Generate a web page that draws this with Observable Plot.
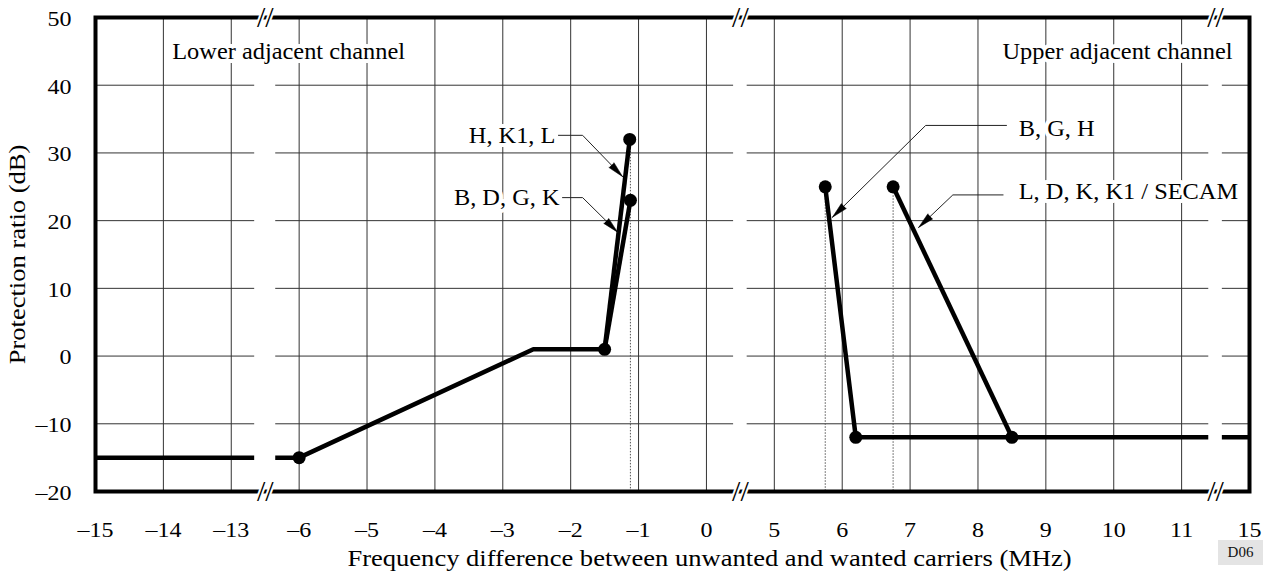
<!DOCTYPE html>
<html><head><meta charset="utf-8">
<script src="https://cdn.jsdelivr.net/npm/d3@7"></script>
<script src="https://cdn.jsdelivr.net/npm/@observablehq/plot@0.6"></script>
<style>
body{margin:0;background:#fff;}
#wrap{position:relative;width:1276px;height:577px;}
#code{position:absolute;left:1218px;top:540px;width:45px;height:25px;background:#e4e4e4;font:15px "Liberation Serif";display:flex;align-items:center;justify-content:center;color:#111;z-index:2;}
</style></head><body><div id="wrap"><div id="code">D06</div></div>
<script>
// ---- axis definition (broken frequency axis) ----
const xTickValues = [-15,-14,-13,-6,-5,-4,-3,-2,-1,0,5,6,7,8,9,10,11,15];
const yTickValues = [-20,-10,0,10,20,30,40,50];
const segDomain = [-15,-13,-6,0,5,11,15];
const segVirtual = [0,2,3,9,10,16,17];
const breakVirtual = [2.5, 9.5, 16.5];

// ---- series ----
const commonF = [-15, -6, -2.55, -1.5];
const commonDB = [-15, -15, 1, 1];
const hk1lF = [-1.5, -1.13];
const hk1lDB = [1, 32];
const bdgkF = [-1.5, -1.12];
const bdgkDB = [1, 23];
const bghF = [5.75, 6.2, 15];
const bghDB = [25, -12, -12];
const ldkF = [6.75, 8.5];
const ldkDB = [25, -12];

const markerF = [-6, -1.5, -1.13, -1.12, 5.75, 6.2, 6.75, 8.5];
const markerDB = [-15, 1, 32, 23, 25, -12, 25, -12];

const dropF = [-1.12, 5.75, 6.75];
const dropTop = [32, 25, 25];

// ---- annotations ----
const channelText = ["Lower adjacent channel", "Upper adjacent channel"];
const channelF = [-13.87, 8.36];
const channelDB = [45, 45];

const annoText = ["H, K1, L", "B, D, G, K", "B, G, H", "L, D, K, K1 / SECAM"];
const annoF = [-2.18, -2.12, 8.6, 8.6];
const annoDB = [32.6, 23.4, 33.6, 24.3];
const leaderF = [[-2.18, -1.824, -1.235], [-2.12, -1.824, -1.309], [8.42, 7.23, 5.856], [8.37, 7.63, 7.126]];
const leaderDB = [[32.6, 32.6, 26.5], [23.4, 23.4, 18.3], [34.06, 34.06, 20.5], [23.8, 23.8, 19.0]];

const yLabel = "Protection ratio (dB)";
const xLabel = "Frequency difference between unwanted and wanted carriers (MHz)";

// ---- build ----
const toV = d3.scaleLinear(segDomain, segVirtual);
const fmt = d => d < 0 ? "\u2013" + Math.abs(d) : String(d);

const W = 1276, H = 577, mL = 95, mR = 27, mT = 17, mB = 86;
const xs = d3.scaleLinear([0, 17], [mL, W - mR]);
const ys = d3.scaleLinear([-20, 50], [H - mB, mT]);

const lineRows = [];
[["common", commonF, commonDB], ["hk1l", hk1lF, hk1lDB], ["bdgk", bdgkF, bdgkDB], ["bgh", bghF, bghDB], ["ldk", ldkF, ldkDB]]
  .forEach(([s, F, D]) => F.forEach((f, i) => lineRows.push({s, v: toV(f), db: D[i]})));
const markers = markerF.map((f, i) => ({v: toV(f), db: markerDB[i]}));
const drops = dropF.map((f, i) => ({v: toV(f), top: dropTop[i]}));
const channels = channelText.map((t, i) => ({t, v: toV(channelF[i]), db: channelDB[i]}));
const annos = annoText.map((t, i) => ({t, i, v: toV(annoF[i]), db: annoDB[i]}));
const leaderRows = [];
leaderF.forEach((F, k) => F.forEach((f, j) => leaderRows.push({id: k, v: toV(f), db: leaderDB[k][j]})));
const tips = leaderF.map((F, k) => {
  const x0 = xs(toV(F[1])), y0 = ys(leaderDB[k][1]);
  const x1 = xs(toV(F[2])), y1 = ys(leaderDB[k][2]);
  return {v: toV(F[2]), db: leaderDB[k][2], rot: Math.atan2(x1 - x0, -(y1 - y0)) * 180 / Math.PI};
});
const gaps = breakVirtual.map((c, i) => ({a: c - (i === 0 ? 0.155 : 0.1), b: c + (i === 0 ? 0.155 : 0.1)}));
const breakMarks = breakVirtual.flatMap(c => [{v: c, db: 50}, {v: c, db: -20}]);

const plot = Plot.plot({
  width: W, height: H,
  marginLeft: mL, marginRight: mR, marginTop: mT, marginBottom: mB,
  x: {domain: [0, 17]},
  y: {domain: [-20, 50]},
  style: {fontFamily: "Liberation Serif", background: "white", color: "black"},
  marks: [
    Plot.gridX(xTickValues.map(toV), {stroke: "#333", strokeOpacity: 1, strokeWidth: 1}),
    Plot.gridY([-10, 0, 10, 20, 30, 40], {stroke: "#333", strokeOpacity: 1, strokeWidth: 1}),
    Plot.ruleX(drops, {x: "v", y1: "top", y2: -20, stroke: "#555", strokeWidth: 1, strokeDasharray: "1.5,1.5"}),
    Plot.line(lineRows, {x: "v", y: "db", z: "s", stroke: "black", strokeWidth: 4.5, strokeLinecap: "butt", strokeLinejoin: "miter"}),
    Plot.dot(markers, {x: "v", y: "db", r: 6.5, fill: "black"}),
    Plot.rect(gaps, {x1: "a", x2: "b", y1: -20, y2: 50, fill: "white"}),
    Plot.text(channels, {x: "v", y: "db", text: "t", textAnchor: "start", fontSize: 23, fill: "black", stroke: "white", strokeWidth: 8}),
    Plot.text(annos.filter(d => d.i < 2), {x: "v", y: "db", text: "t", textAnchor: "end", dx: -3, fontSize: 23, fill: "black", stroke: "white", strokeWidth: 8}),
    Plot.text(annos.filter(d => d.i >= 2), {x: "v", y: "db", text: "t", textAnchor: "start", fontSize: 23, fill: "black", stroke: "white", strokeWidth: 8}),
    Plot.line(leaderRows, {x: "v", y: "db", z: "id", stroke: "#222", strokeWidth: 1, curve: "linear"}),
    Plot.vector(tips, {x: "v", y: "db", rotate: "rot", length: 16, r: 3.5, shape: "spike", anchor: "end", fill: "black", stroke: "black", strokeWidth: 0.5}),
    Plot.frame({stroke: "black", strokeWidth: 4}),
    Plot.text(breakMarks, {x: "v", y: "db", text: () => "//", fontSize: 30, fill: "black", stroke: "white", strokeWidth: 4}),
    Plot.axisX(xTickValues.map(toV), {tickSize: 0, tickPadding: 31, fontSize: 20, tickFormat: v => fmt(xTickValues[Math.round(v)]), label: null}),
    Plot.axisY(yTickValues, {tickSize: 0, tickPadding: 24, fontSize: 20, dy: 2, tickFormat: fmt, label: null}),
    Plot.text([yLabel], {frameAnchor: "left", textAnchor: "middle", lineAnchor: "middle", rotate: -90, dx: -78.5, fontSize: 23.5}),
    Plot.text([xLabel], {frameAnchor: "bottom", textAnchor: "middle", lineAnchor: "middle", dx: 37, dy: 67, fontSize: 23.5})
  ]
});
document.getElementById("wrap").prepend(plot);

// horizontal glyph widening to match the reference's wide serif text
const factors = {20: 1.2, 23: 1.06, 23.5: 1.13};
plot.querySelectorAll("text").forEach(t => {
  const f = factors[parseFloat(getComputedStyle(t).fontSize)];
  if (f) {
    const L = t.getComputedTextLength();
    t.setAttribute("textLength", L * f);
    t.setAttribute("lengthAdjust", "spacingAndGlyphs");
  }
});
</script>
</body></html>
